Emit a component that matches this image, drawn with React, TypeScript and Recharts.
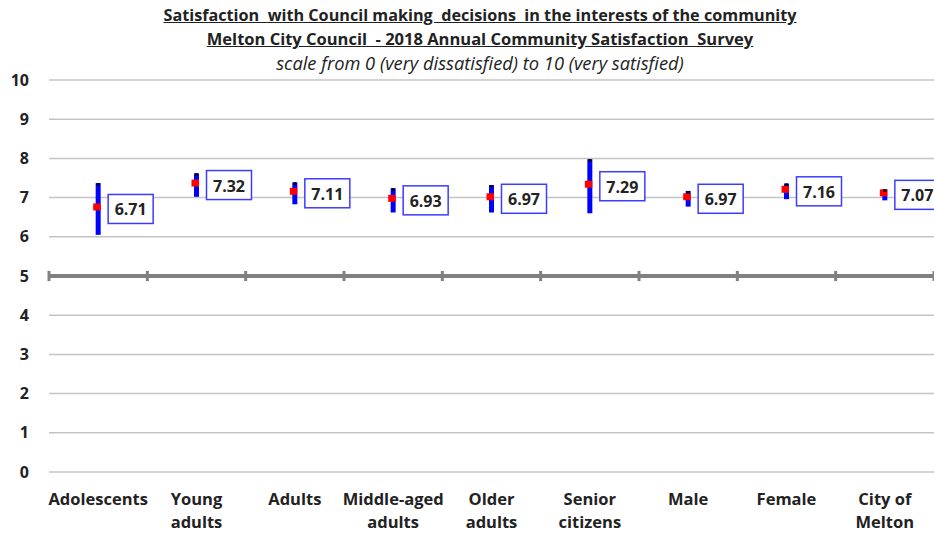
import React from "react";
import {
  ComposedChart,
  Scatter,
  XAxis,
  YAxis,
  CartesianGrid,
  ReferenceLine,
  ErrorBar,
} from "recharts";

const categories = [
  "Adolescents",
  "Young adults",
  "Adults",
  "Middle-aged adults",
  "Older adults",
  "Senior citizens",
  "Male",
  "Female",
  "City of Melton",
];
const tickLines = [
  ["Adolescents"],
  ["Young", "adults"],
  ["Adults"],
  ["Middle-aged", "adults"],
  ["Older", "adults"],
  ["Senior", "citizens"],
  ["Male"],
  ["Female"],
  ["City of", "Melton"],
];
const means = [6.71, 7.32, 7.11, 6.93, 6.97, 7.29, 6.97, 7.16, 7.07];
const lows = [6.05, 7.02, 6.83, 6.62, 6.62, 6.6, 6.77, 6.96, 6.93];
const highs = [7.37, 7.62, 7.39, 7.24, 7.32, 7.98, 7.17, 7.36, 7.21];
const yTicks = [0, 1, 2, 3, 4, 5, 6, 7, 8, 9, 10];
const titleLines = [
  "Satisfaction  with Council making  decisions  in the interests of the community",
  "Melton City Council  - 2018 Annual Community Satisfaction  Survey",
];
const subtitle = "scale from 0 (very dissatisfied) to 10 (very satisfied)";

const FONT = "'Open Sans', Lato, sans-serif";
const TEXT = "#222";

const data = categories.map((name, i) => ({
  name,
  pos: i + 0.5,
  mean: means[i],
  hi: highs[i],
  err: [means[i] - lows[i], highs[i] - means[i]],
}));
const catTicks = categories.map((_, i) => i + 0.5);
const boundaries = categories.map((_, i) => i).concat([categories.length]);

const CatTick = (props: any) => {
  const { x, y, payload } = props;
  const i = Math.round(payload.value - 0.5);
  const lines = tickLines[i] || [];
  return (
    <text
      x={x}
      y={y}
      textAnchor="middle"
      fontFamily={FONT}
      fontWeight="bold"
      fontSize={16.5}
      fill={TEXT}
    >
      {lines.map((l, k) => (
        <tspan key={k} x={x} y={y + 33 + k * 23}>
          {l}
        </tspan>
      ))}
    </text>
  );
};

const RedMarker = (props: any) => {
  const { cx, cy } = props;
  if (cx == null || cy == null) return <g />;
  return <rect x={cx - 5} y={cy - 5.5} width={7.5} height={7} fill="#ff0000" />;
};

const Cap = (props: any) => {
  const { cx, cy } = props;
  if (cx == null || cy == null) return <g />;
  return <rect x={cx - 1.5} y={cy} width={3} height={2.5} fill="#000" />;
};

const LabelBox = (props: any) => {
  const { cx, cy, payload } = props;
  if (cx == null || cy == null) return <g />;
  const bx = cx + 10;
  return (
    <g>
      <rect
        x={bx}
        y={cy - 14.5}
        width={45}
        height={29}
        fill="#fff"
        stroke="#3c3cff"
        strokeWidth={1.5}
      />
      <text
        x={bx + 22.5}
        y={cy + 0.5}
        textAnchor="middle"
        dominantBaseline="central"
        fontFamily={FONT}
        fontWeight="bold"
        fontSize={16}
        fill={TEXT}
      >
        {payload.mean.toFixed(2)}
      </text>
    </g>
  );
};

export default function App() {
  return (
    <div
      style={{
        position: "absolute",
        left: 0,
        top: 0,
        width: 934,
        height: 533,
        overflow: "hidden",
        background: "#fff",
        fontFamily: FONT,
      }}
    >
      <div
        style={{
          position: "absolute",
          left: 0,
          top: 4,
          width: 960,
          textAlign: "center",
          fontSize: 16.5,
          lineHeight: "23px",
          color: TEXT,
        }}
      >
        {titleLines.map((t, i) => (
          <div
            key={i}
            style={{
              fontWeight: "bold",
              textDecoration: "underline",
              whiteSpace: "pre",
              fontSize: i === 0 ? 16.2 : 16.5,
            }}
          >
            {t}
          </div>
        ))}
        <div style={{ fontStyle: "italic", fontSize: 18.3, marginTop: 1 }}>
          {subtitle}
        </div>
      </div>
      <div style={{ position: "absolute", left: 0, top: 0 }}>
        <ComposedChart
          width={934}
          height={533}
          data={data}
          margin={{ top: 80, right: 0, bottom: 0, left: 0 }}
        >
          <CartesianGrid
            vertical={false}
            stroke="#c4c4c4"
            strokeWidth={1.5}
          />
          <XAxis
            dataKey="pos"
            type="number"
            domain={[0, 9]}
            ticks={catTicks}
            interval={0}
            axisLine={false}
            tickLine={false}
            tickSize={0}
            tickMargin={0}
            height={61}
            tick={<CatTick />}
          />
          <YAxis
            type="number"
            domain={[0, 10]}
            ticks={yTicks}
            interval={0}
            axisLine={false}
            tickLine={false}
            tickSize={0}
            tickMargin={20}
            width={49}
            tick={{
              fontFamily: FONT,
              fontWeight: "bold",
              fontSize: 16,
              fill: TEXT,
            }}
          />
          <ReferenceLine y={5} stroke="#808080" strokeWidth={4} />
          {boundaries.map((b) => (
            <ReferenceLine
              key={b}
              segment={[
                { x: b, y: 4.87 },
                { x: b, y: 5.13 },
              ]}
              stroke="#808080"
              strokeWidth={3}
            />
          ))}
          <Scatter
            dataKey="mean"
            shape={<RedMarker />}
            isAnimationActive={false}
          >
            <ErrorBar
              dataKey="err"
              direction="y"
              width={0}
              stroke="#0000ff"
              strokeWidth={5}
              isAnimationActive={false}
            />
          </Scatter>
          <Scatter dataKey="hi" shape={<Cap />} isAnimationActive={false} />
          <Scatter
            dataKey="mean"
            shape={<LabelBox />}
            isAnimationActive={false}
          />
        </ComposedChart>
      </div>
    </div>
  );
}
